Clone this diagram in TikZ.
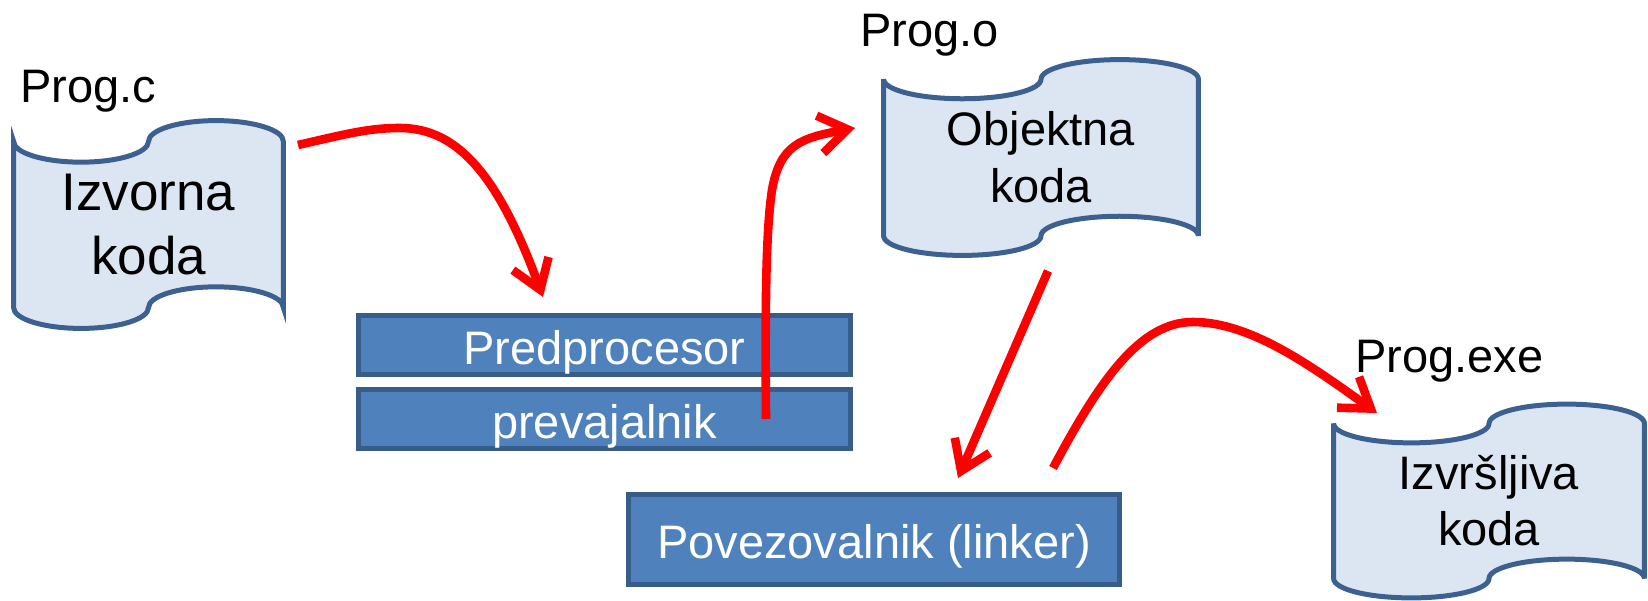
\documentclass[tikz,border=0pt]{standalone}
\usepackage{fontspec}
\setmainfont{Liberation Sans}
\usetikzlibrary{positioning,calc,arrows.meta,backgrounds}
\definecolor{tapefill}{HTML}{DCE6F2}
\definecolor{tapeborder}{HTML}{3C6190}
\definecolor{boxfill}{HTML}{4F81BD}
\definecolor{boxline}{HTML}{385D8A}

\begin{document}
\begin{tikzpicture}[x=0.5pt, y=-0.5pt,
    tape/.style={rectangle, inner sep=0, align=center, font=\fontsize{23.5}{28.5}\selectfont},
    tapeline/.style={draw=tapeborder, fill=tapefill, line width=2.5pt},
    procbox/.style={rectangle, draw=boxline, fill=boxfill, line width=2.5pt, text=white,
        inner sep=0, minimum width=246pt, text height=24pt, text depth=5pt,
        font=\fontsize{23.5}{28}\selectfont},
    lbl/.style={anchor=base west, inner sep=0, font=\fontsize{23.5}{28}\selectfont},
    flow/.style={draw=red, line width=4.3pt, -{Straight Barb[length=14pt, width=19pt]}}
]
    \useasboundingbox (0,0) rectangle (1648,600);

    % datoteke
    \node[tape, minimum width=134.5pt, minimum height=103.5pt,
          font=\fontsize{26.5}{32}\selectfont] (izv) at (148.5,224.5) {Izvorna\\koda};
    \node[tape, minimum width=157pt, minimum height=97.5pt] (obj) at (1041,157.5) {Objektna\\koda};
    \node[tape, minimum width=155pt, minimum height=96.5pt, font=\fontsize{23.5}{28}\selectfont]
          (exe) at (1489,501) {Izvršljiva\\koda};

    \begin{scope}[on background layer]
        \foreach \d in {izv,obj,exe}
            \filldraw[tapeline] let \p1=(\d.south west), \p2=(\d.north east),
                \n1={(\x2-\x1)/4}, \n2={(\y2-\y1)/10} in
                (\x1,{\y2-\n2}) arc[start angle=180, end angle=360, x radius=\n1, y radius=\n2]
                arc[start angle=180, end angle=0, x radius=\n1, y radius=\n2]
                -- (\x2,{\y1+\n2})
                arc[start angle=0, end angle=180, x radius=\n1, y radius=\n2]
                arc[start angle=0, end angle=-180, x radius=\n1, y radius=\n2]
                -- cycle;
    \end{scope}

    \node[lbl] (lc) at (20,102) {Prog.c};
    \node[lbl] (lo) at (860,46) {Prog.o};
    \node[lbl] (lexe) at (1355,372) {Prog.exe};

    % orodja
    \node[procbox, minimum height=29.5pt] (pre) at (604.5,345) {Predprocesor};
    \node[procbox, minimum height=29.5pt, below=5pt of pre] (comp) {prevajalnik};
    \node[procbox, minimum width=245.5pt, minimum height=45pt] (link) at (874,539.5) {Povezovalnik (linker)};

    % puscice
    \coordinate (s1) at (298,145);
    \coordinate (e1) at (543,297);
    \coordinate (s2) at (766,419);
    \coordinate (e2) at (855,128);
    \coordinate (s3) at (1048,271);
    \coordinate (e3) at (958,478);
    \coordinate (s4) at (1053,468);
    \coordinate (e4) at (1377,413);

    \draw[flow] (s1) .. controls (350,133) and (370,128) .. (400,128)
                     .. controls (460,128) and (500,180) .. (e1);
    \draw[flow] (s2) .. controls (765,300) and (766,230) .. (772,190)
                     .. controls (780,145) and (800,138) .. (e2);
    \draw[flow] (s3) -- (e3);
    \draw[flow] (s4) .. controls (1100,380) and (1140,322) .. (1193,322)
                     .. controls (1250,322) and (1310,365) .. (e4);
\end{tikzpicture}
\end{document}
